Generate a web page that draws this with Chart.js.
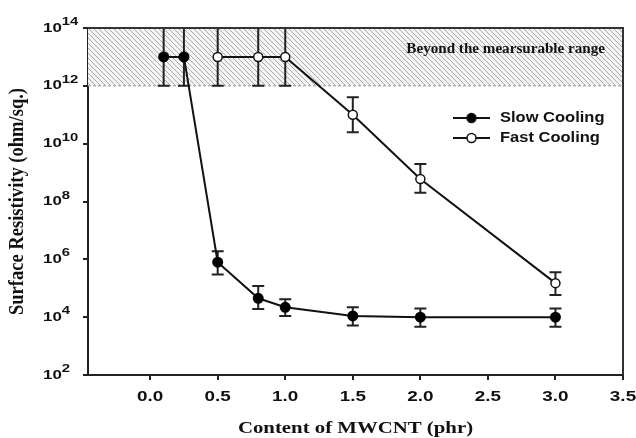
<!DOCTYPE html>
<html>
<head>
<meta charset="utf-8">
<script src="https://cdn.jsdelivr.net/npm/chart.js@4"></script>
<style>
  html, body { margin: 0; padding: 0; background: #fff; }
  #wrap { width: 636px; height: 438px; }
</style>
</head>
<body>
<div id="wrap"><canvas id="myChart"></canvas></div>
<script>
// data
const contentSlow = [0.1, 0.25, 0.5, 0.8, 1.0, 1.5, 2.0, 3.0];
const slowCooling = [1e13, 1e13, 8e5, 4.5e4, 2.2e4, 1.1e4, 1e4, 1e4];
const slowLow = [1e12, 1e12, 3e5, 1.9e4, 1.1e4, 5.2e3, 4.7e3, 4.7e3];
const slowHigh = [1e14, 1e14, 1.9e6, 1.2e5, 4.2e4, 2.2e4, 2e4, 2e4];

const contentFast = [0.5, 0.8, 1.0, 1.5, 2.0, 3.0];
const fastCooling = [1e13, 1e13, 1e13, 1e11, 6e8, 1.5e5];
const fastLow = [1e12, 1e12, 1e12, 2.5e10, 2e8, 5.8e4];
const fastHigh = [1e14, 1e14, 1e14, 4e11, 2e9, 3.6e5];

const xTicks = [0.0, 0.5, 1.0, 1.5, 2.0, 2.5, 3.0, 3.5];
const yPowers = [2, 4, 6, 8, 10, 12, 14];
const rangeLow = 1e12;
const rangeHigh = 1e14;
const rangeLabel = 'Beyond the mearsurable range';
const seriesNames = ['Slow Cooling', 'Fast Cooling'];

const errLow = [slowLow, fastLow];
const errHigh = [slowHigh, fastHigh];
const xVals = [contentSlow, contentFast];

// text with a bit of horizontal stretch, like the scanned figure
function sText(ctx, txt, x, y, font, align, sx) {
    ctx.save();
    ctx.font = font;
    ctx.textBaseline = 'middle';
    ctx.textAlign = 'left';
    const w = ctx.measureText(txt).width * sx;
    let x0 = x;
    if (align === 'center') x0 = x - w / 2;
    if (align === 'right') x0 = x - w;
    ctx.translate(x0, y);
    ctx.scale(sx, 1);
    ctx.fillText(txt, 0, 0);
    ctx.restore();
    return w;
}

const pc = document.createElement('canvas');
pc.width = 5; pc.height = 5;
const pctx = pc.getContext('2d');
pctx.strokeStyle = '#ababab';
pctx.lineWidth = 1;
pctx.beginPath();
pctx.moveTo(-1, -1); pctx.lineTo(6, 6);
pctx.moveTo(-1, 4); pctx.lineTo(1, 6);
pctx.moveTo(4, -1); pctx.lineTo(6, 1);
pctx.stroke();

const decor = {
    id: 'decor',
    beforeDatasetsDraw(chart) {
        const ctx = chart.ctx;
        const a = chart.chartArea;
        const xs = chart.scales.x, ys = chart.scales.y;
        const yTop = ys.getPixelForValue(rangeHigh);
        const yBot = ys.getPixelForValue(rangeLow);

        // hatched band
        ctx.save();
        ctx.fillStyle = '#f4f4f4';
        ctx.fillRect(a.left, yTop, a.right - a.left, yBot - yTop);
        ctx.fillStyle = ctx.createPattern(pc, 'repeat');
        ctx.fillRect(a.left, yTop, a.right - a.left, yBot - yTop);
        ctx.strokeStyle = '#999';
        ctx.lineWidth = 1;
        ctx.setLineDash([3, 2]);
        ctx.beginPath();
        ctx.moveTo(a.left, yBot);
        ctx.lineTo(a.right, yBot);
        ctx.stroke();
        ctx.restore();

        ctx.fillStyle = '#111';
        sText(ctx, rangeLabel, a.right - 18, yTop + 21, 'bold 14px "Liberation Serif", "Times New Roman", serif', 'right', 1.08);

        // error bars
        ctx.save();
        ctx.strokeStyle = '#222';
        ctx.lineWidth = 2;
        for (let i = 0; i < 2; i++) {
            xVals[i].forEach((v, j) => {
                const x = xs.getPixelForValue(v);
                const y1 = ys.getPixelForValue(errHigh[i][j]);
                const y2 = ys.getPixelForValue(errLow[i][j]);
                ctx.beginPath();
                ctx.moveTo(x, y1); ctx.lineTo(x, y2);
                ctx.moveTo(x - 6, y1); ctx.lineTo(x + 6, y1);
                ctx.moveTo(x - 6, y2); ctx.lineTo(x + 6, y2);
                ctx.stroke();
            });
        }
        ctx.restore();
    },
    afterDraw(chart) {
        const ctx = chart.ctx;
        const a = chart.chartArea;
        const xs = chart.scales.x, ys = chart.scales.y;

        // box frame top and right
        ctx.save();
        ctx.strokeStyle = '#333';
        ctx.lineWidth = 2;
        ctx.beginPath();
        ctx.moveTo(a.left, a.top);
        ctx.lineTo(a.right, a.top);
        ctx.lineTo(a.right, a.bottom);
        ctx.stroke();
        ctx.restore();

        ctx.fillStyle = '#111';
        // y tick labels 10^n
        yPowers.forEach(p => {
            const y = ys.getPixelForValue(Math.pow(10, p));
            const w = sText(ctx, '10', 43, y, 'bold 13px "Liberation Sans", Arial, sans-serif', 'left', 1.3);
            sText(ctx, String(p), 43 + w, y - 6, 'bold 11px "Liberation Sans", Arial, sans-serif', 'left', 1.35);
        });
        // x tick labels
        xTicks.forEach(v => {
            sText(ctx, v.toFixed(1), xs.getPixelForValue(v), 397, 'bold 14px "Liberation Sans", Arial, sans-serif', 'center', 1.35);
        });
        // axis titles
        sText(ctx, 'Content of MWCNT (phr)', (a.left + a.right) / 2, 429, 'bold 16px "Liberation Serif", "Times New Roman", serif', 'center', 1.3);
        ctx.save();
        ctx.translate(18, (a.top + a.bottom) / 2);
        ctx.rotate(-Math.PI / 2);
        ctx.scale(1, 1.15);
        sText(ctx, 'Surface Resistivity (ohm/sq.)', 0, 0, 'bold 18px "Liberation Serif", "Times New Roman", serif', 'center', 1.03);
        ctx.restore();

        // legend
        const ly = [118, 138];
        for (let i = 0; i < 2; i++) {
            ctx.save();
            ctx.strokeStyle = '#111';
            ctx.lineWidth = 1.8;
            ctx.beginPath();
            ctx.moveTo(453, ly[i]); ctx.lineTo(490, ly[i]);
            ctx.stroke();
            ctx.beginPath();
            ctx.arc(471.5, ly[i], 4.5, 0, Math.PI * 2);
            ctx.fillStyle = i === 0 ? '#000' : '#fff';
            ctx.fill();
            ctx.lineWidth = 1.5;
            ctx.stroke();
            ctx.restore();
            ctx.fillStyle = '#111';
            sText(ctx, seriesNames[i], 500, ly[i], 'bold 15px "Liberation Sans", Arial, sans-serif', 'left', 1.1);
        }
    }
};

const ctx = document.getElementById('myChart');

new Chart(ctx, {
    type: 'line',
    data: {
        datasets: [{
            label: seriesNames[0],
            data: contentSlow.map((x, i) => ({ x: x, y: slowCooling[i] })),
            borderColor: '#111',
            borderWidth: 2,
            pointRadius: 4.5,
            pointBackgroundColor: '#000',
            pointBorderColor: '#000',
            tension: 0
        }, {
            label: seriesNames[1],
            data: contentFast.map((x, i) => ({ x: x, y: fastCooling[i] })),
            borderColor: '#111',
            borderWidth: 2,
            pointRadius: 4.5,
            pointBackgroundColor: '#fff',
            pointBorderColor: '#111',
            pointBorderWidth: 1.5,
            tension: 0
        }]
    },
    options: {
        responsive: true,
        maintainAspectRatio: false,
        animation: false,
        layout: { padding: { top: 28, right: 13, left: 0, bottom: 0 } },
        plugins: { legend: { display: false }, tooltip: { enabled: false } },
        scales: {
            x: {
                type: 'linear',
                min: -0.46,
                max: 3.5,
                afterBuildTicks: s => { s.ticks = xTicks.map(v => ({ value: v })); },
                afterFit: s => { s.height = 63; },
                ticks: { display: false },
                grid: { drawOnChartArea: false, drawTicks: true, tickLength: 5, color: '#222', lineWidth: 2 },
                border: { color: '#222', width: 2 }
            },
            y: {
                type: 'logarithmic',
                min: 1e2,
                max: 1e14,
                afterBuildTicks: s => { s.ticks = yPowers.map(p => ({ value: Math.pow(10, p), major: true })); },
                afterFit: s => { s.width = 88; },
                ticks: { display: false },
                grid: { drawOnChartArea: false, drawTicks: true, tickLength: 5, color: '#222', lineWidth: 2 },
                border: { color: '#222', width: 2 }
            }
        }
    },
    plugins: [decor]
});
</script>
</body>
</html>
